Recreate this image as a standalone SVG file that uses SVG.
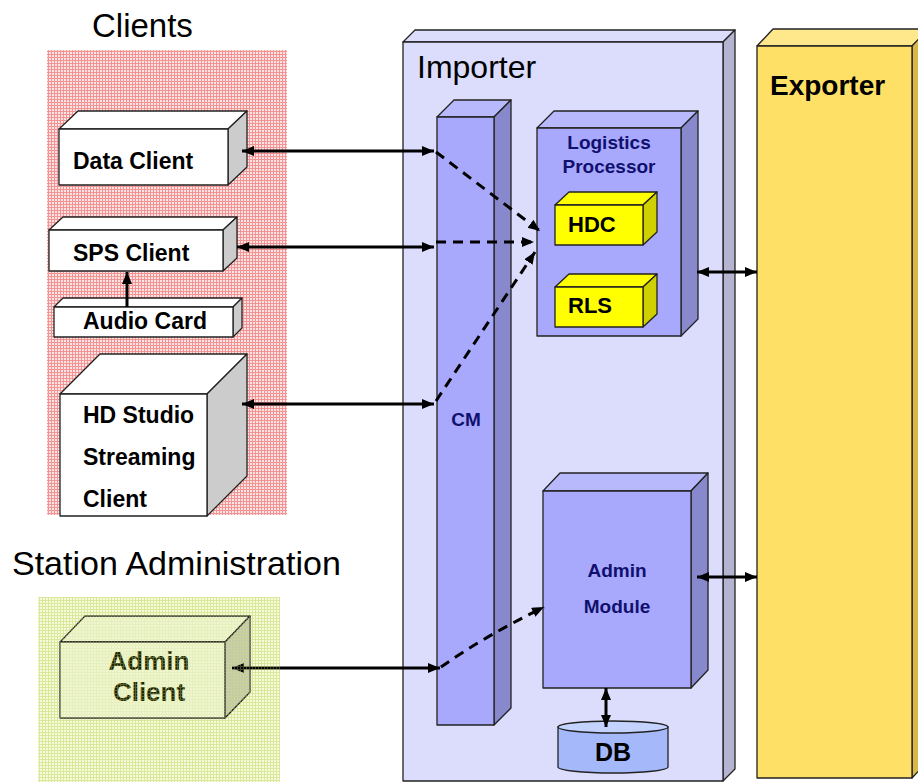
<svg xmlns="http://www.w3.org/2000/svg" width="918" height="782" viewBox="0 0 918 782">
<defs>
<pattern id="pinkGrid" width="3" height="3" patternUnits="userSpaceOnUse">
<rect width="3" height="3" fill="#fde4e4"/>
<path d="M0,0.5 H3 M0.5,0 V3" stroke="#f29494" stroke-width="1"/>
</pattern>
<pattern id="greenGrid" width="3" height="3" patternUnits="userSpaceOnUse">
<rect width="3" height="3" fill="#f6fbdc"/>
<path d="M0,0.5 H3 M0.5,0 V3" stroke="#dceaa0" stroke-width="1"/>
</pattern>
<pattern id="greenOver" width="3" height="3" patternUnits="userSpaceOnUse">
<path d="M0,0.5 H3 M0.5,0 V3" stroke="#d4e490" stroke-width="1"/>
</pattern>
<marker id="ah" markerUnits="userSpaceOnUse" markerWidth="14" markerHeight="12" refX="12" refY="5" orient="auto-start-reverse">
<path d="M0,0 L12,5 L0,10 z" fill="#000"/>
</marker>
</defs>
<style>
.edge{stroke:#222;stroke-width:1.3;stroke-linejoin:round}
.wf{fill:#ffffff}.ws{fill:#cccccc}
.if{fill:#dcdcfc}.is{fill:#b4b4d0}
.pf{fill:#a8a8fc}.pt{fill:#b8b8fc}.ps{fill:#8888cc}
.yf{fill:#ffff00}.ys{fill:#d0d000}
.ef{fill:#ffe066}.et{fill:#ffe88c}.es{fill:#d8b84a}
.gf{fill:#eef5cf}.gs{fill:#c4caa4}
.t{font-family:"Liberation Sans",Arial,sans-serif}
.b{font-weight:bold}
.navy{fill:#10106e}
.conn{stroke:#000;stroke-width:3;fill:none}
.dash{stroke-dasharray:10,7}
</style>

<g id="clients-area">
<rect x="47" y="50" width="240" height="465" fill="url(#pinkGrid)"/>
<text class="t" x="92" y="37" font-size="33">Clients</text>
</g>
<g id="station-admin-area">
<rect x="38" y="597" width="242" height="185" fill="url(#greenGrid)"/>
<text class="t" x="12" y="575" font-size="34">Station Administration</text>
</g>

<g id="importer">
<polygon class="if edge" points="403,42 415,30 735,30 723,42"/>
<polygon class="is edge" points="723,42 735,30 735,769 723,781"/>
<rect class="if edge" x="403" y="42" width="320" height="739"/>
<text class="t" x="417" y="78" font-size="32">Importer</text>
</g>

<g id="exporter">
<polygon class="et edge" points="757,46 773,29 930,29 912,46"/>
<polygon class="es edge" points="912,46 928,29 928,761 912,778"/>
<rect class="ef edge" x="757" y="46" width="155" height="732"/>
<text class="t b" x="770" y="95" font-size="28">Exporter</text>
</g>

<g id="cm">
<polygon class="pt edge" points="437,117 454,100 511,100 494,117"/>
<polygon class="ps edge" points="494,117 511,100 511,708 494,725"/>
<rect class="pf edge" x="437" y="117" width="57" height="608"/>
<text class="t b navy" x="466" y="426" font-size="19" text-anchor="middle">CM</text>
</g>

<g id="logistics-processor">
<polygon class="pt edge" points="537,128 554,111 698,111 681,128"/>
<polygon class="ps edge" points="681,128 698,111 698,319 681,336"/>
<rect class="pf edge" x="537" y="128" width="144" height="208"/>
<text class="t b navy" x="609" y="149" font-size="19" text-anchor="middle">Logistics</text>
<text class="t b navy" x="609" y="173" font-size="19" text-anchor="middle">Processor</text>
</g>

<g id="hdc">
<polygon class="yf edge" points="555,205 569,192 657,192 643,205"/>
<polygon class="ys edge" points="643,205 657,192 657,232 643,245"/>
<rect class="yf edge" x="555" y="205" width="88" height="40"/>
<text class="t b" x="568" y="232" font-size="22">HDC</text>
</g>

<g id="rls">
<polygon class="yf edge" points="555,287 569,274 657,274 643,287"/>
<polygon class="ys edge" points="643,287 657,274 657,314 643,327"/>
<rect class="yf edge" x="555" y="287" width="88" height="40"/>
<text class="t b" x="568" y="313" font-size="22">RLS</text>
</g>

<g id="admin-module">
<polygon class="pt edge" points="543,491 560,473 708,473 691,491"/>
<polygon class="ps edge" points="691,491 708,473 708,670 691,688"/>
<rect class="pf edge" x="543" y="491" width="148" height="197"/>
<text class="t b navy" x="617" y="577" font-size="19" text-anchor="middle">Admin</text>
<text class="t b navy" x="617" y="613" font-size="19" text-anchor="middle">Module</text>
</g>

<g id="db">
<path class="edge" d="M558,727 L558,767 A55,6 0 0 0 668,767 L668,727 Z" fill="#a4b8fa"/>
<ellipse class="edge" cx="613" cy="727" rx="55" ry="6" fill="#c4d2ff"/>
<text class="t b" x="613" y="761" font-size="25" text-anchor="middle">DB</text>
</g>

<g id="data-client">
<polygon class="wf edge" points="59,129 78,111 247,111 228,129"/>
<polygon class="ws edge" points="228,129 247,111 247,167 228,185"/>
<rect class="wf edge" x="59" y="129" width="169" height="56"/>
<text class="t b" x="73" y="169" font-size="23">Data Client</text>
</g>

<g id="sps-client">
<polygon class="wf edge" points="49,230 63,217 237,217 223,230"/>
<polygon class="ws edge" points="223,230 237,217 237,258 223,271"/>
<rect class="wf edge" x="49" y="230" width="174" height="41"/>
<text class="t b" x="73" y="261" font-size="23">SPS Client</text>
</g>

<g id="audio-card">
<polygon class="wf edge" points="54,307 63,298 242,298 233,307"/>
<polygon class="ws edge" points="233,307 242,298 242,328 233,337"/>
<rect class="wf edge" x="54" y="307" width="179" height="30"/>
<text class="t b" x="83" y="329" font-size="23">Audio Card</text>
</g>

<g id="hd-studio">
<polygon class="wf edge" points="60,394 100,354 247,354 207,394"/>
<polygon class="ws edge" points="207,394 247,354 247,476 207,516"/>
<rect class="wf edge" x="60" y="394" width="147" height="122"/>
<text class="t b" x="83" y="423" font-size="23">HD Studio</text>
<text class="t b" x="83" y="465" font-size="23">Streaming</text>
<text class="t b" x="83" y="507" font-size="23">Client</text>
</g>

<g id="admin-client">
<polygon class="gf edge" points="60,642 85,616 250,616 225,642"/>
<polygon class="gs edge" points="225,642 250,616 250,692 225,718"/>
<rect class="gf edge" x="60" y="642" width="165" height="76"/>
<text class="t b" x="149" y="670" font-size="26" text-anchor="middle" fill="#1e2600">Admin</text>
<text class="t b" x="149" y="701" font-size="26" text-anchor="middle" fill="#1e2600">Client</text>
</g>

<g id="connectors">
<path class="conn" d="M242,151 L434,151" marker-start="url(#ah)" marker-end="url(#ah)"/>
<path class="conn" d="M237,247 L434,247" marker-start="url(#ah)" marker-end="url(#ah)"/>
<path class="conn" d="M242,404 L434,404" marker-start="url(#ah)" marker-end="url(#ah)"/>
<path class="conn" d="M232,668 L440,668" marker-start="url(#ah)" marker-end="url(#ah)"/>
<path class="conn" d="M127,307 L127,272" marker-end="url(#ah)"/>
<path class="conn dash" d="M436,152 L540,231" marker-end="url(#ah)"/>
<path class="conn dash" d="M436,242 L534,242" marker-end="url(#ah)"/>
<path class="conn dash" d="M436,401 L535,252" marker-end="url(#ah)"/>
<path class="conn dash" d="M441,667 Q485,636 544,607" marker-end="url(#ah)"/>
<path class="conn" d="M697,272 L757,272" marker-start="url(#ah)" marker-end="url(#ah)"/>
<path class="conn" d="M697,577 L757,577" marker-start="url(#ah)" marker-end="url(#ah)"/>
<path class="conn" d="M606,688 L606,727" marker-start="url(#ah)" marker-end="url(#ah)"/>
</g>

<g id="station-admin-overlay">
<rect x="38" y="597" width="242" height="185" fill="url(#greenOver)" opacity="0.3"/>
</g>
</svg>
